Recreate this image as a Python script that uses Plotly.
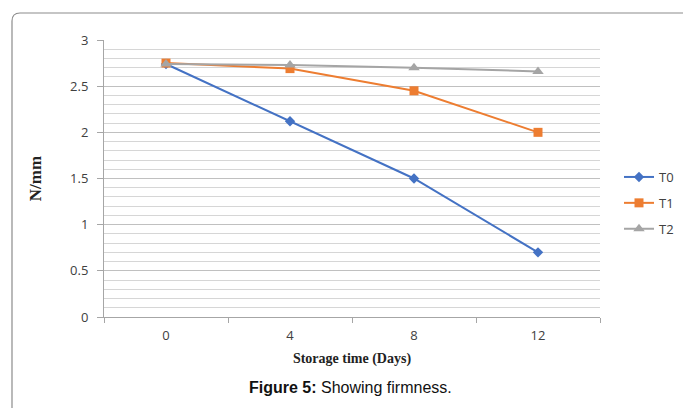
import plotly.graph_objects as go

days = ["0", "4", "8", "12"]
t0 = [2.74, 2.12, 1.50, 0.70]
t1 = [2.75, 2.69, 2.45, 2.00]
t2 = [2.74, 2.73, 2.70, 2.66]

W, H = 683, 408
L, R, T, B = 104, 83, 40, 91
pw, ph = W - L - R, H - T - B

def px(x):
    return (x - L) / pw

def py(y):
    return (H - B - y) / ph

fig = go.Figure()
series = [
    ("T0", t0, "#4472C4", "diamond", 8),
    ("T1", t1, "#ED7D31", "square", 9),
    ("T2", t2, "#A5A5A5", "triangle-up", 10),
]
for name, vals, col, sym, ms in series:
    fig.add_trace(go.Scatter(
        x=days, y=vals, name=name, mode="lines+markers",
        line=dict(color=col, width=2),
        marker=dict(symbol=sym, size=ms, color=col),
        legendgroup=name,
    ))

tickfont = dict(family="Open Sans, Liberation Sans, sans-serif", size=13, color="#404040")

fig.update_layout(
    width=W, height=H,
    margin=dict(l=L, r=R, t=T, b=B, autoexpand=False),
    paper_bgcolor="white", plot_bgcolor="white",
    showlegend=True,
    legend=dict(x=px(619), y=py(203), xanchor="left", yanchor="middle",
                font=tickfont, tracegroupgap=6, itemwidth=30,
                bgcolor="rgba(0,0,0,0)"),
    xaxis=dict(
        type="category", range=[-0.5, 3.5],
        tickson="boundaries", ticks="outside", ticklen=5, tickcolor="#a6a6a6",
        showline=True, linecolor="#a6a6a6", linewidth=1,
        showgrid=False, tickfont=tickfont, ticklabelstandoff=6,
        title=dict(text="<b>Storage time (Days)</b>", standoff=10,
                   font=dict(family="Liberation Serif, Times New Roman, serif", size=14, color="#222")),
    ),
    yaxis=dict(
        range=[0, 3], dtick=0.5, tick0=0,
        ticks="outside", ticklen=6, tickcolor="#a6a6a6",
        showline=True, linecolor="#a6a6a6", linewidth=1,
        showgrid=True, gridcolor="#c0c0c0", gridwidth=1,
        minor=dict(dtick=0.1, showgrid=True, gridcolor="#d6d6d6", gridwidth=1),
        zeroline=False, tickfont=tickfont, ticklabelstandoff=6,
        tickformat="~g",
        title=dict(text="<b>N/mm</b>", standoff=24,
                   font=dict(family="Liberation Serif, Times New Roman, serif", size=17, color="#222")),
    ),
)

# outer rounded frame
x0, xr = px(12), px(720)
yt, yb = py(13), py(430)
rx, ry = 8 / pw, 8 / ph
path = (f"M {x0},{yb} L {x0},{yt - ry} Q {x0},{yt} {x0 + rx},{yt} L {xr},{yt}")
fig.add_shape(type="path", path=path, xref="paper", yref="paper",
              line=dict(color="#8c8c8c", width=1.2))

fig.add_annotation(
    text="<b>Figure 5:</b> Showing firmness.", xref="paper", yref="paper",
    x=px(350), y=py(387), xanchor="center", yanchor="middle", showarrow=False,
    font=dict(family="Liberation Sans, Arial, sans-serif", size=16, color="#111"),
)

fig.write_html("out.html")
